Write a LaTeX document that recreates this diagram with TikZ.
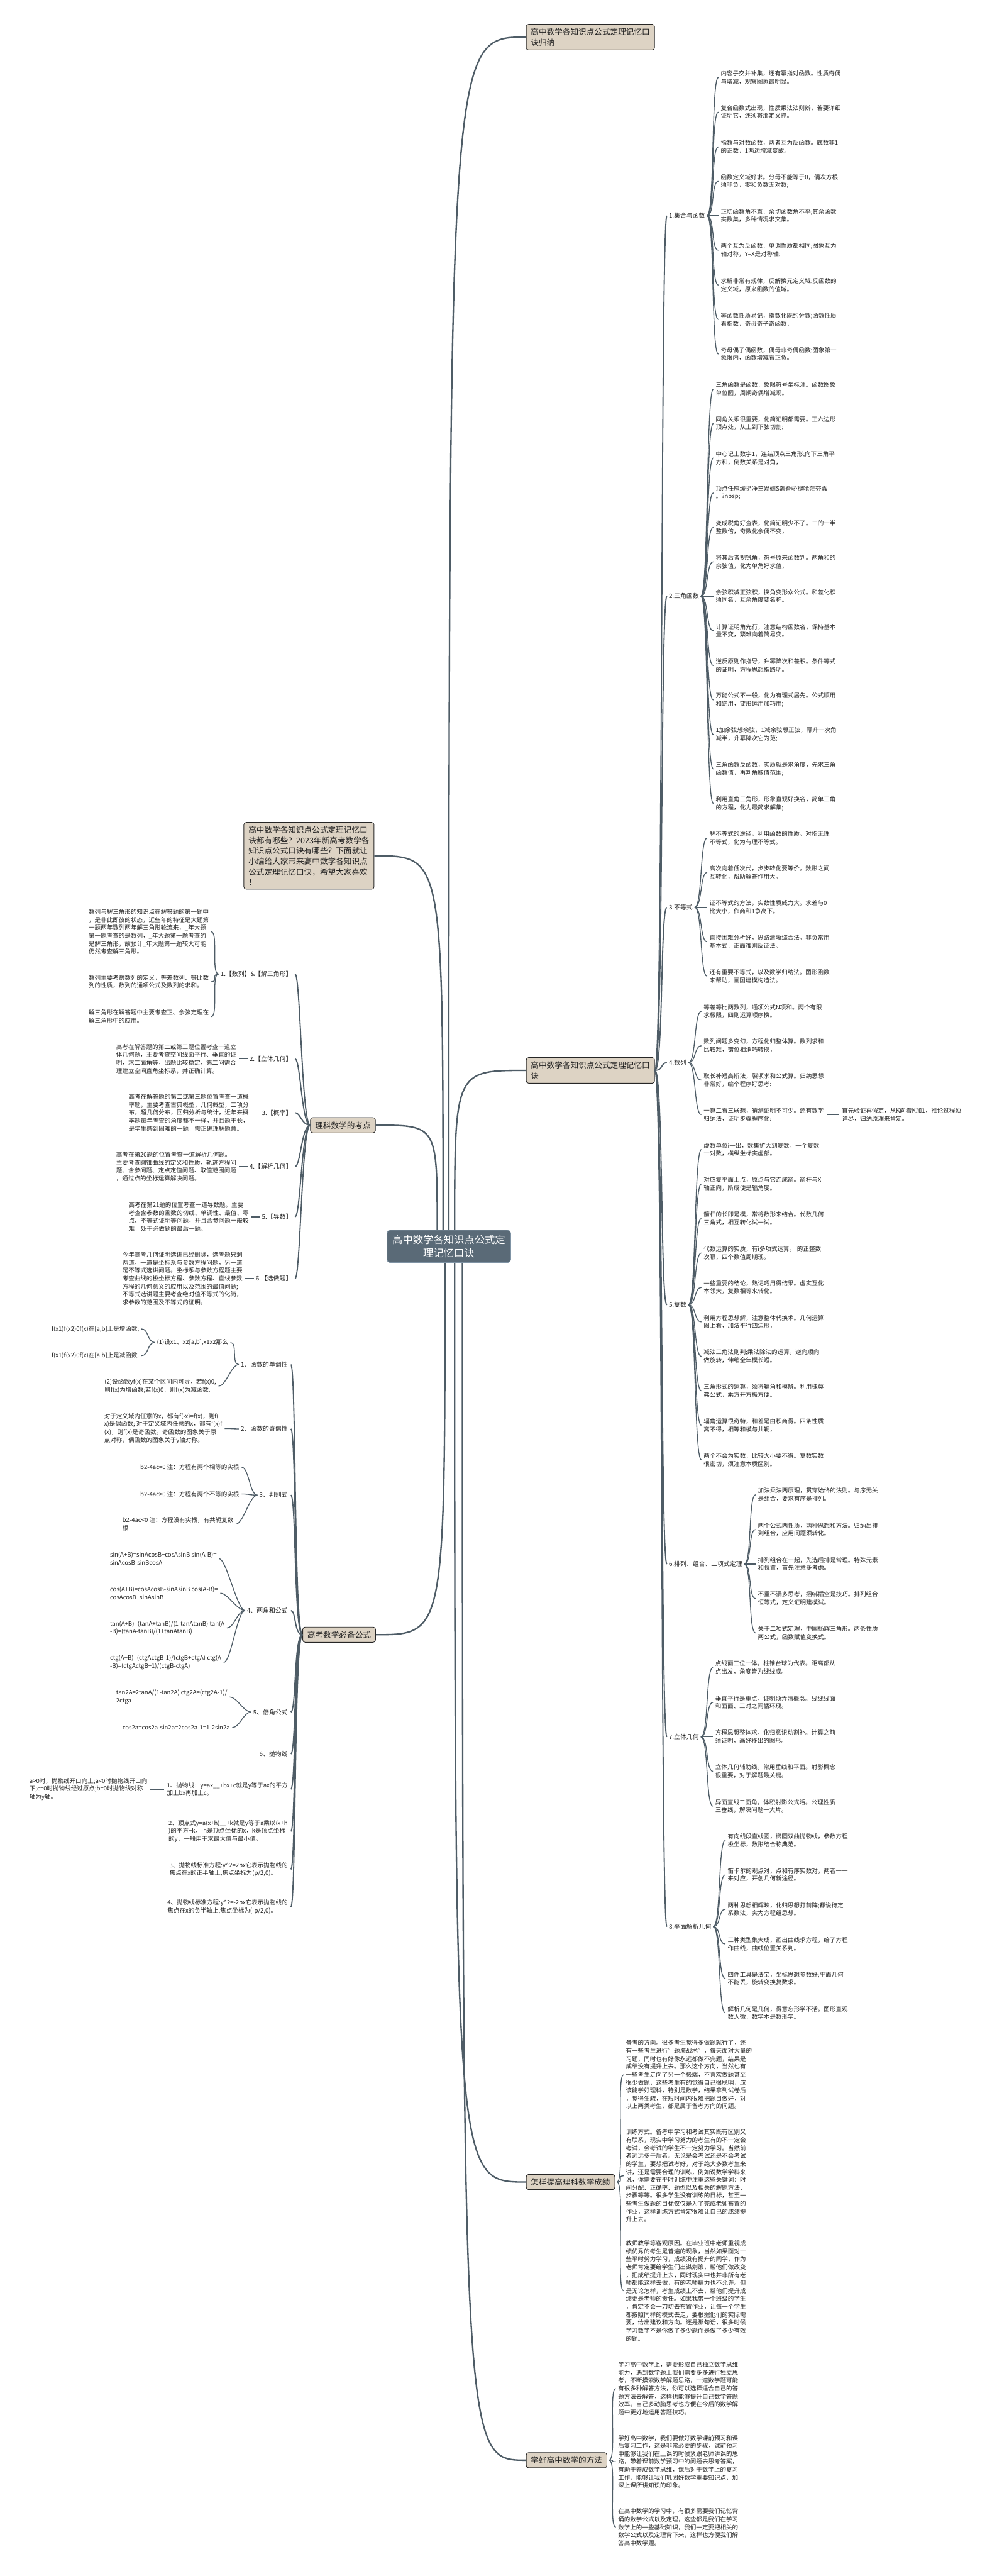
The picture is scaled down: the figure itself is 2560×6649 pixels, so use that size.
\documentclass[tikz,border=0pt]{standalone}
\usepackage{fontspec}
\setmainfont{Noto Sans CJK SC}
\usetikzlibrary{calc}
\definecolor{lnc}{HTML}{4E5C66}
\definecolor{boxfill}{HTML}{DDD3C4}
\definecolor{rootfill}{HTML}{5A6A77}
\definecolor{rootline}{HTML}{7F93A4}
\definecolor{txt}{HTML}{222222}
\tikzset{
  leaf/.style={anchor=west, inner sep=0pt, align=left, text=txt, font=\fontsize{15.5}{20.5}\selectfont},
  lbl/.style={anchor=west, inner sep=0pt, text=txt, font=\fontsize{16}{20}\selectfont},
  lblr/.style={anchor=east, inner sep=0pt, text=txt, font=\fontsize{16}{20}\selectfont},
  bbox/.style={draw=black!85, line width=1.5pt, fill=boxfill, rounded corners=6pt, inner xsep=12pt, inner ysep=10pt, align=left, text=txt, font=\fontsize{20.5}{27}\selectfont, anchor=north west},
  rootst/.style={draw=rootline, line width=1.5pt, fill=rootfill, rounded corners=8pt, inner xsep=14pt, inner ysep=12pt, align=center, text=white, font=\fontsize{26.5}{35}\selectfont},
  con/.style={draw=lnc, line width=2.2pt},
  tcon/.style={draw=lnc, line width=3pt},
  rcon/.style={draw=lnc, line width=3.8pt},
}
\newcommand\rc[2]{\draw[con] ($(#1.east)+(5,0)$) .. controls ($(#1.east)+(25,0)$) and ($(#2.west)+(-25,0)$) .. ($(#2.west)+(-6,0)$);}
\newcommand\lc[2]{\draw[con] ($(#1.west)+(-5,0)$) .. controls ($(#1.west)+(-25,0)$) and ($(#2.east)+(25,0)$) .. ($(#2.east)+(6,0)$);}
\newcommand\rt[2]{\draw[tcon] (#1.east) .. controls ($(#1.east)+(22,0)$) and ($(#2.west)+(-22,0)$) .. ($(#2.west)+(-5,0)$);}
\newcommand\lt[2]{\draw[tcon] (#1.west) .. controls ($(#1.west)+(-22,0)$) and ($(#2.east)+(22,0)$) .. ($(#2.east)+(8,0)$);}
\begin{document}
\begin{tikzpicture}[x=1pt,y=-1pt]
\useasboundingbox[fill=white] (0,0) rectangle (2560,6649);

% ---------- main nodes ----------
\node[rootst] (root) at (1159,3217) {高中数学各知识点公式定\\理记忆口诀};
\node[bbox] (top) at (1358,62) {高中数学各知识点公式定理记忆口\\诀归纳};
\node[bbox] (intro) at (629,2122) {高中数学各知识点公式定理记忆口\\诀都有哪些？2023年新高考数学各\\知识点公式口诀有哪些？下面就让\\小编给大家带来高中数学各知识点\\公式定理记忆口诀，希望大家喜欢\\！};
\node[bbox] (kj) at (1358,2729) {高中数学各知识点公式定理记忆口\\诀};
\node[bbox] (lk) at (801,2884) {理科数学的考点};
\node[bbox] (gk) at (781,4199) {高考数学必备公式};
\node[bbox,anchor=west] (zy) at (1358,5632) {怎样提高理科数学成绩};
\node[bbox,anchor=west] (xh) at (1358,6350) {学好高中数学的方法};

% root connectors
\coordinate (r1) at ($(root.north)+(0,0)$);
\coordinate (r2) at ($(root.north)+(-15,0)$);
\coordinate (r3) at ($(root.north)+(15,0)$);
\coordinate (r4) at ($(root.north)+(-30,0)$);
\draw[rcon] (r1) .. controls (r1 |- top.west) .. (top.west);
\draw[rcon] (r2) .. controls (r2 |- intro.east) .. (intro.east);
\draw[rcon] (r3) .. controls (r3 |- kj.west) .. (kj.west);
\draw[rcon] (r4) .. controls (r4 |- lk.east) .. (lk.east);
\coordinate (b1) at ($(root.south)+(-10,0)$);
\coordinate (b2) at ($(root.south)+(15,0)$);
\coordinate (b3) at ($(root.south)+(35,0)$);
\draw[rcon] (b1) .. controls (b1 |- gk.east) .. (gk.east);
\draw[rcon] (b2) .. controls (b2 |- zy.west) .. (zy.west);
\draw[rcon] (b3) .. controls (b3 |- xh.west) .. (xh.west);

% ---------- right: 口诀 ----------
\node[lbl] (s1) at (1727,557) {1.集合与函数};
\node[lbl] (s2) at (1727,1539) {2.三角函数};
\node[lbl] (s3) at (1727,2342) {3.不等式};
\node[lbl] (s4) at (1727,2743) {4.数列};
\node[lbl] (s5) at (1727,3368) {5.复数};
\node[lbl] (s6) at (1727,4037) {6.排列、组合、二项式定理};
\node[lbl] (s7) at (1727,4483) {7.立体几何};
\node[lbl] (s8) at (1727,4973) {8.平面解析几何};
\foreach \s in {s1,s2,s3,s4,s5,s6,s7,s8} {\rt{kj}{\s}}

\node[leaf] (a1) at (1861,200) {内容子交并补集，还有幂指对函数。性质奇偶\\与增减，观察图象最明显。};
\node[leaf] (a2) at (1861,289) {复合函数式出现，性质乘法法则辨，若要详细\\证明它，还须将那定义抓。};
\node[leaf] (a3) at (1861,379) {指数与对数函数，两者互为反函数。底数非1\\的正数，1两边增减变故。};
\node[leaf] (a4) at (1861,468) {函数定义域好求。分母不能等于0，偶次方根\\须非负，零和负数无对数;};
\node[leaf] (a5) at (1861,557) {正切函数角不直，余切函数角不平;其余函数\\实数集，多种情况求交集。};
\node[leaf] (a6) at (1861,646) {两个互为反函数，单调性质都相同;图象互为\\轴对称，Y=X是对称轴;};
\node[leaf] (a7) at (1861,736) {求解非常有规律，反解换元定义域;反函数的\\定义域，原来函数的值域。};
\node[leaf] (a8) at (1861,825) {幂函数性质易记，指数化既约分数;函数性质\\看指数，奇母奇子奇函数，};
\node[leaf] (a9) at (1861,914) {奇母偶子偶函数，偶母非奇偶函数;图象第一\\象限内，函数增减看正负。};
\foreach \i in {1,...,9} {\rc{s1}{a\i}}

\node[leaf] (b1) at (1848,1004) {三角函数是函数，象限符号坐标注。函数图象\\单位圆，周期奇偶增减现。};
\node[leaf] (b2) at (1848,1093) {同角关系很重要，化简证明都需要。正六边形\\顶点处，从上到下弦切割;};
\node[leaf] (b3) at (1848,1182) {中心记上数字1，连结顶点三角形;向下三角平\\方和，倒数关系是对角，};
\node[leaf] (b4) at (1848,1272) {顶点任庖缓扔净竺媪礁S盏脊骄褪呛茫夯蟊\\。?nbsp;};
\node[leaf] (b5) at (1848,1361) {变成税角好查表，化简证明少不了。二的一半\\整数倍，奇数化余偶不变，};
\node[leaf] (b6) at (1848,1450) {将其后者视锐角，符号原来函数判。两角和的\\余弦值，化为单角好求值，};
\node[leaf] (b7) at (1848,1539) {余弦积减正弦积，换角变形众公式。和差化积\\须同名，互余角度变名称。};
\node[leaf] (b8) at (1848,1628) {计算证明角先行，注意结构函数名，保持基本\\量不变，繁难向着简易变。};
\node[leaf] (b9) at (1848,1718) {逆反原则作指导，升幂降次和差积。条件等式\\的证明，方程思想指路明。};
\node[leaf] (b10) at (1848,1807) {万能公式不一般，化为有理式居先。公式顺用\\和逆用，变形运用加巧用;};
\node[leaf] (b11) at (1848,1896) {1加余弦想余弦，1减余弦想正弦，幂升一次角\\减半，升幂降次它为范;};
\node[leaf] (b12) at (1848,1985) {三角函数反函数，实质就是求角度，先求三角\\函数值，再判角取值范围;};
\node[leaf] (b13) at (1848,2074) {利用直角三角形，形象直观好换名，简单三角\\的方程，化为最简求解集;};
\foreach \i in {1,...,13} {\rc{s2}{b\i}}

\node[leaf] (c1) at (1832,2163) {解不等式的途径，利用函数的性质。对指无理\\不等式，化为有理不等式。};
\node[leaf] (c2) at (1832,2252) {高次向着低次代，步步转化要等价。数形之间\\互转化，帮助解答作用大。};
\node[leaf] (c3) at (1832,2342) {证不等式的方法，实数性质威力大。求差与0\\比大小，作商和1争高下。};
\node[leaf] (c4) at (1832,2431) {直接困难分析好，思路清晰综合法。非负常用\\基本式，正面难则反证法。};
\node[leaf] (c5) at (1832,2520) {还有重要不等式，以及数学归纳法。图形函数\\来帮助，画图建模构造法。};
\foreach \i in {1,...,5} {\rc{s3}{c\i}}

\node[leaf] (d1) at (1817,2610) {等差等比两数列，通项公式N项和。两个有限\\求极限，四则运算顺序换。};
\node[leaf] (d2) at (1817,2699) {数列问题多变幻，方程化归整体算。数列求和\\比较难，错位相消巧转换，};
\node[leaf] (d3) at (1817,2788) {取长补短高斯法，裂项求和公式算。归纳思想\\非常好，编个程序好思考:};
\node[leaf] (d4) at (1817,2877) {一算二看三联想，猜测证明不可少。还有数学\\归纳法，证明步骤程序化:};
\foreach \i in {1,...,4} {\rc{s4}{d\i}}
\node[leaf] (d5) at (2174,2877) {首先验证再假定，从K向着K加1，推论过程须\\详尽，归纳原理来肯定。};
\draw[con] ($(d4.east)+(8,0)$) -- ($(d5.west)+(-8,0)$);

\node[leaf] (e1) at (1817,2967) {虚数单位i一出，数集扩大到复数。一个复数\\一对数，横纵坐标实虚部。};
\node[leaf] (e2) at (1817,3056) {对应复平面上点，原点与它连成箭。箭杆与X\\轴正向，所成便是辐角度。};
\node[leaf] (e3) at (1817,3145) {箭杆的长即是模，常将数形来结合。代数几何\\三角式，相互转化试一试。};
\node[leaf] (e4) at (1817,3234) {代数运算的实质，有i多项式运算。i的正整数\\次幂，四个数值周期现。};
\node[leaf] (e5) at (1817,3323) {一些重要的结论，熟记巧用得结果。虚实互化\\本领大，复数相等来转化。};
\node[leaf] (e6) at (1817,3412) {利用方程思想解，注意整体代换术。几何运算\\图上看，加法平行四边形，};
\node[leaf] (e7) at (1817,3501) {减法三角法则判;乘法除法的运算，逆向顺向\\做旋转，伸缩全年模长短。};
\node[leaf] (e8) at (1817,3590) {三角形式的运算，须将辐角和模辨。利用棣莫\\弗公式，乘方开方极方便。};
\node[leaf] (e9) at (1817,3679) {辐角运算很奇特，和差是由积商得。四条性质\\离不得，相等和模与共轭，};
\node[leaf] (e10) at (1817,3768) {两个不会为实数，比较大小要不得。复数实数\\很密切，须注意本质区别。};
\foreach \i in {1,...,10} {\rc{s5}{e\i}}

\node[leaf] (f1) at (1957,3858) {加法乘法两原理，贯穿始终的法则。与序无关\\是组合，要求有序是排列。};
\node[leaf] (f2) at (1957,3948) {两个公式两性质，两种思想和方法。归纳出排\\列组合，应用问题须转化。};
\node[leaf] (f3) at (1957,4037) {排列组合在一起，先选后排是常理。特殊元素\\和位置，首先注意多考虑。};
\node[leaf] (f4) at (1957,4126) {不重不漏多思考，捆绑插空是技巧。排列组合\\恒等式，定义证明建模试。};
\node[leaf] (f5) at (1957,4215) {关于二项式定理，中国杨辉三角形。两条性质\\两公式，函数赋值变换式。};
\foreach \i in {1,...,5} {\rc{s6}{f\i}}

\node[leaf] (g1) at (1847,4304) {点线面三位一体，柱锥台球为代表。距离都从\\点出发，角度皆为线线成。};
\node[leaf] (g2) at (1847,4394) {垂直平行是重点，证明须弄清概念。线线线面\\和面面、三对之间循环现。};
\node[leaf] (g3) at (1847,4483) {方程思想整体求，化归意识动割补。计算之前\\须证明，画好移出的图形。};
\node[leaf] (g4) at (1847,4572) {立体几何辅助线，常用垂线和平面。射影概念\\很重要，对于解题最关键。};
\node[leaf] (g5) at (1847,4662) {异面直线二面角，体积射影公式活。公理性质\\三垂线，解决问题一大片。};
\foreach \i in {1,...,5} {\rc{s7}{g\i}}

\node[leaf] (h1) at (1879,4750) {有向线段直线圆，椭圆双曲抛物线，参数方程\\极坐标，数形结合称典范。};
\node[leaf] (h2) at (1879,4839) {笛卡尔的观点对，点和有序实数对，两者一一\\来对应，开创几何新途径。};
\node[leaf] (h3) at (1879,4928) {两种思想相辉映，化归思想打前阵;都说待定\\系数法，实为方程组思想。};
\node[leaf] (h4) at (1879,5018) {三种类型集大成，画出曲线求方程，给了方程\\作曲线，曲线位置关系判。};
\node[leaf] (h5) at (1879,5107) {四件工具是法宝，坐标思想参数好;平面几何\\不能丢，旋转变换复数求。};
\node[leaf] (h6) at (1879,5196) {解析几何是几何，得意忘形学不活。图形直观\\数入微，数学本是数形学。};
\foreach \i in {1,...,6} {\rc{s8}{h\i}}

% ---------- right: 怎样提高 ----------
\node[leaf] (z1) at (1616,5355) {备考的方向。很多考生觉得多做题就行了，还\\有一些考生进行"题海战术"，每天面对大量的\\习题，同时也有好像永远都做不完题，结果是\\成绩没有提升上去。那么这个方向，当然也有\\一些考生走向了另一个极端，不喜欢做题甚至\\很少做题，这些考生有的觉得自己很聪明，应\\该能学好理科，特别是数学，结果拿到试卷后\\，觉得生疏，在短时间内很难把题目做好，对\\以上两类考生，都是属于备考方向的问题。};
\node[leaf] (z2) at (1616,5616) {训练方式。备考中学习和考试其实既有区别又\\有联系，现实中学习努力的考生有的不一定会\\考试，会考试的学生不一定努力学习。当然前\\者远远多于后者。无论是会考试还是不会考试\\的学生，要想把试考好，对于绝大多数考生来\\讲，还是需要合理的训练，例如说数学学科来\\说，你需要在平时训练中注重这些关键词：时\\间分配、正确率、题型以及相关的解题方法、\\步骤等等。很多学生没有训练的目标，甚至一\\些考生做题的目标仅仅是为了完成老师布置的\\作业，这样训练方式肯定很难让自己的成绩提\\升上去。};
\node[leaf] (z3) at (1616,5913) {教师教学等客观原因。在毕业班中老师重视成\\绩优秀的考生是普遍的现象，当然如果面对一\\些平时努力学习，成绩没有提升的同学，作为\\老师肯定要给学生们出谋划策，帮他们做改变\\，把成绩提升上去，同时现实中也并非所有老\\师都能这样去做，有的老师精力也不允许。但\\是无论怎样，考生成绩上不去，帮他们提升成\\绩更是老师的责任。如果我带一个班级的学生\\，肯定不会一刀切去布置作业，让每一个学生\\都按照同样的模式去走，要根据他们的实际需\\要，给出建议和方向。还是那句话，很多时候\\学习数学不是你做了多少题而是做了多少有效\\的题。};
\foreach \i in {1,2,3} {\rc{zy}{z\i}}

\node[leaf] (x1) at (1596,6165) {学习高中数学上，需要形成自己独立数学思维\\能力，遇到数学题上我们需要多多进行独立思\\考，不断摸索数学解题思路，一道数学题可能\\有很多种解答方法，你可以选择适合自己的答\\题方法去解答，这样也能够提升自己数学答题\\效率。自己多动脑思考也方便在今后的数学解\\题中更好地运用答题技巧。};
\node[leaf] (x2) at (1596,6354) {学好高中数学，我们要做好数学课前预习和课\\后复习工作，这是非常必要的步骤，课前预习\\中能够让我们在上课的时候紧跟老师讲课的思\\路，带着课前数学预习中的问题去思考答案，\\有助于养成数学思维，课后对于数学上的复习\\工作，能够让我们巩固好数学重要知识点，加\\深上课所讲知识的印象。};
\node[leaf] (x3) at (1596,6523) {在高中数学的学习中，有很多需要我们记忆背\\诵的数学公式以及定理，这些都是我们在学习\\数学上的一些基础知识，我们一定要把相关的\\数学公式以及定理背下来，这样也方便我们解\\答高中数学题。};
\foreach \i in {1,2,3} {\rc{xh}{x\i}}

% ---------- left: 理科数学的考点 ----------
\node[lblr] (k1) at (754,2514) {1.【数列】\&【解三角形】};
\node[lblr] (k2) at (754,2733) {2.【立体几何】};
\node[lblr] (k3) at (754,2872) {3.【概率】};
\node[lblr] (k4) at (754,3011) {4.【解析几何】};
\node[lblr] (k5) at (754,3141) {5.【导数】};
\node[lblr] (k6) at (754,3300) {6.【选做题】};
\foreach \k in {k1,k2,k3,k4,k5,k6} {\lt{lk}{\k}}

\node[leaf] (k1a) at (229,2405) {数列与解三角形的知识点在解答题的第一题中\\，是非此即彼的状态，近些年的特征是大题第\\一题两年数列两年解三角形轮流来，\_年大题\\第一题考查的是数列，\_年大题第一题考查的\\是解三角形，故预计\_年大题第一题较大可能\\仍然考查解三角形。};
\node[leaf] (k1b) at (229,2534) {数列主要考察数列的定义，等差数列、等比数\\列的性质，数列的通项公式及数列的求和。};
\node[leaf] (k1c) at (229,2624) {解三角形在解答题中主要考查正、余弦定理在\\解三角形中的应用。};
\lc{k1}{k1a}\lc{k1}{k1b}\lc{k1}{k1c}
\node[leaf] (k2a) at (300,2733) {高考在解答题的第二或第三题位置考查一道立\\体几何题，主要考查空间线面平行、垂直的证\\明，求二面角等，出题比较稳定，第二问需合\\理建立空间直角坐标系，并正确计算。};
\lc{k2}{k2a}
\node[leaf] (k3a) at (332,2872) {高考在解答题的第二或第三题位置考查一道概\\率题，主要考查古典概型，几何概型，二项分\\布，超几何分布，回归分析与统计，近年来概\\率题每年考查的角度都不一样，并且题干长，\\是学生感到困难的一题，需正确理解题意。};
\lc{k3}{k3a}
\node[leaf] (k4a) at (300,3011) {高考在第20题的位置考查一道解析几何题。\\主要考查圆锥曲线的定义和性质，轨迹方程问\\题、含参问题、定点定值问题、取值范围问题\\，通过点的坐标运算解决问题。};
\lc{k4}{k4a}
\node[leaf] (k5a) at (332,3141) {高考在第21题的位置考查一道导数题。主要\\考查含参数的函数的切线、单调性、最值、零\\点、不等式证明等问题，并且含参问题一般较\\难，处于必做题的最后一题。};
\lc{k5}{k5a}
\node[leaf] (k6a) at (316,3300) {今年高考几何证明选讲已经删除，选考题只剩\\两道，一道是坐标系与参数方程问题，另一道\\是不等式选讲问题。坐标系与参数方程题主要\\考查曲线的极坐标方程、参数方程、直线参数\\方程的几何意义的应用以及范围的最值问题;\\不等式选讲题主要考查绝对值不等式的化简，\\求参数的范围及不等式的证明。};
\lc{k6}{k6a}

% ---------- left: 高考数学必备公式 ----------
\node[lblr] (p1) at (743,3522) {1、函数的单调性};
\node[lblr] (p2) at (743,3688) {2、函数的奇偶性};
\node[lblr] (p3) at (743,3859) {3、判别式};
\node[lblr] (p4) at (743,4157) {4、两角和公式};
\node[lblr] (p5) at (743,4419) {5、倍角公式};
\node[lblr] (p6) at (743,4527) {6、抛物线};
\node[leaf,anchor=east] (q1) at (743,4618) {1、抛物线：y=ax\_\_+bx+c就是y等于ax的平方\\加上bx再加上c。};
\node[leaf,anchor=east] (q2) at (743,4727) {2、顶点式y=a(x+h)\_\_+k就是y等于a乘以(x+h\\)的平方+k，-h是顶点坐标的x，k是顶点坐标\\的y，一般用于求最大值与最小值。};
\node[leaf,anchor=east] (q3) at (743,4825) {3、抛物线标准方程:y\^{}2=2px它表示抛物线的\\焦点在x的正半轴上,焦点坐标为(p/2,0)。};
\node[leaf,anchor=east] (q4) at (743,4922) {4、抛物线标准方程:y\^{}2=-2px它表示抛物线的\\焦点在x的负半轴上,焦点坐标为(-p/2,0)。};
\foreach \p in {p1,p2,p3,p4,p5,p6,q1,q2,q3,q4} {\lt{gk}{\p}}

\node[leaf] (q1a) at (76,4618) {a>0时，抛物线开口向上;a<0时抛物线开口向\\下;c=0时抛物线经过原点;b=0时抛物线对称\\轴为y轴。};
\draw[con] ($(q1.west)+(-7,0)$) -- ($(q1a.east)+(8,0)$);

\node[leaf] (p1a) at (405,3465) {(1)设x1、x2[a,b],x1x2那么};
\node[leaf] (p1a1) at (133,3430) {f(x1)f(x2)0f(x)在[a,b]上是增函数;};
\node[leaf] (p1a2) at (133,3499) {f(x1)f(x2)0f(x)在[a,b]上是减函数.};
\lc{p1a}{p1a1}\lc{p1a}{p1a2}
\node[leaf] (p1b) at (270,3578) {(2)设函数yf(x)在某个区间内可导，若f(x)0,\\则f(x)为增函数;若f(x)0，则f(x)为减函数.};
\lc{p1}{p1a}\lc{p1}{p1b}
\node[leaf] (p2a) at (269,3687) {对于定义域内任意的x，都有f(-x)=f(x)，则f(\\x)是偶函数; 对于定义域内任意的x，都有f(x)f\\(x)，则f(x)是奇函数。奇函数的图象关于原\\点对称，偶函数的图象关于y轴对称。};
\lc{p2}{p2a}
\node[leaf] (p3a) at (362,3787) {b2-4ac=0 注：方程有两个相等的实根};
\node[leaf] (p3b) at (362,3856) {b2-4ac>0 注：方程有两个不等的实根};
\node[leaf] (p3c) at (316,3934) {b2-4ac<0 注：方程没有实根，有共轭复数\\根};
\lc{p3}{p3a}\lc{p3}{p3b}\lc{p3}{p3c}
\node[leaf] (p4a) at (284,4023) {sin(A+B)=sinAcosB+cosAsinB sin(A-B)=\\sinAcosB-sinBcosA};
\node[leaf] (p4b) at (284,4112) {cos(A+B)=cosAcosB-sinAsinB cos(A-B)=\\cosAcosB+sinAsinB};
\node[leaf] (p4c) at (284,4202) {tan(A+B)=(tanA+tanB)/(1-tanAtanB) tan(A\\-B)=(tanA-tanB)/(1+tanAtanB)};
\node[leaf] (p4d) at (284,4291) {ctg(A+B)=(ctgActgB-1)/(ctgB+ctgA) ctg(A\\-B)=(ctgActgB+1)/(ctgB-ctgA)};
\lc{p4}{p4a}\lc{p4}{p4b}\lc{p4}{p4c}\lc{p4}{p4d}
\node[leaf] (p5a) at (300,4380) {tan2A=2tanA/(1-tan2A) ctg2A=(ctg2A-1)/\\2ctga};
\node[leaf] (p5b) at (316,4459) {cos2a=cos2a-sin2a=2cos2a-1=1-2sin2a};
\lc{p5}{p5a}\lc{p5}{p5b}
\end{tikzpicture}
\end{document}
